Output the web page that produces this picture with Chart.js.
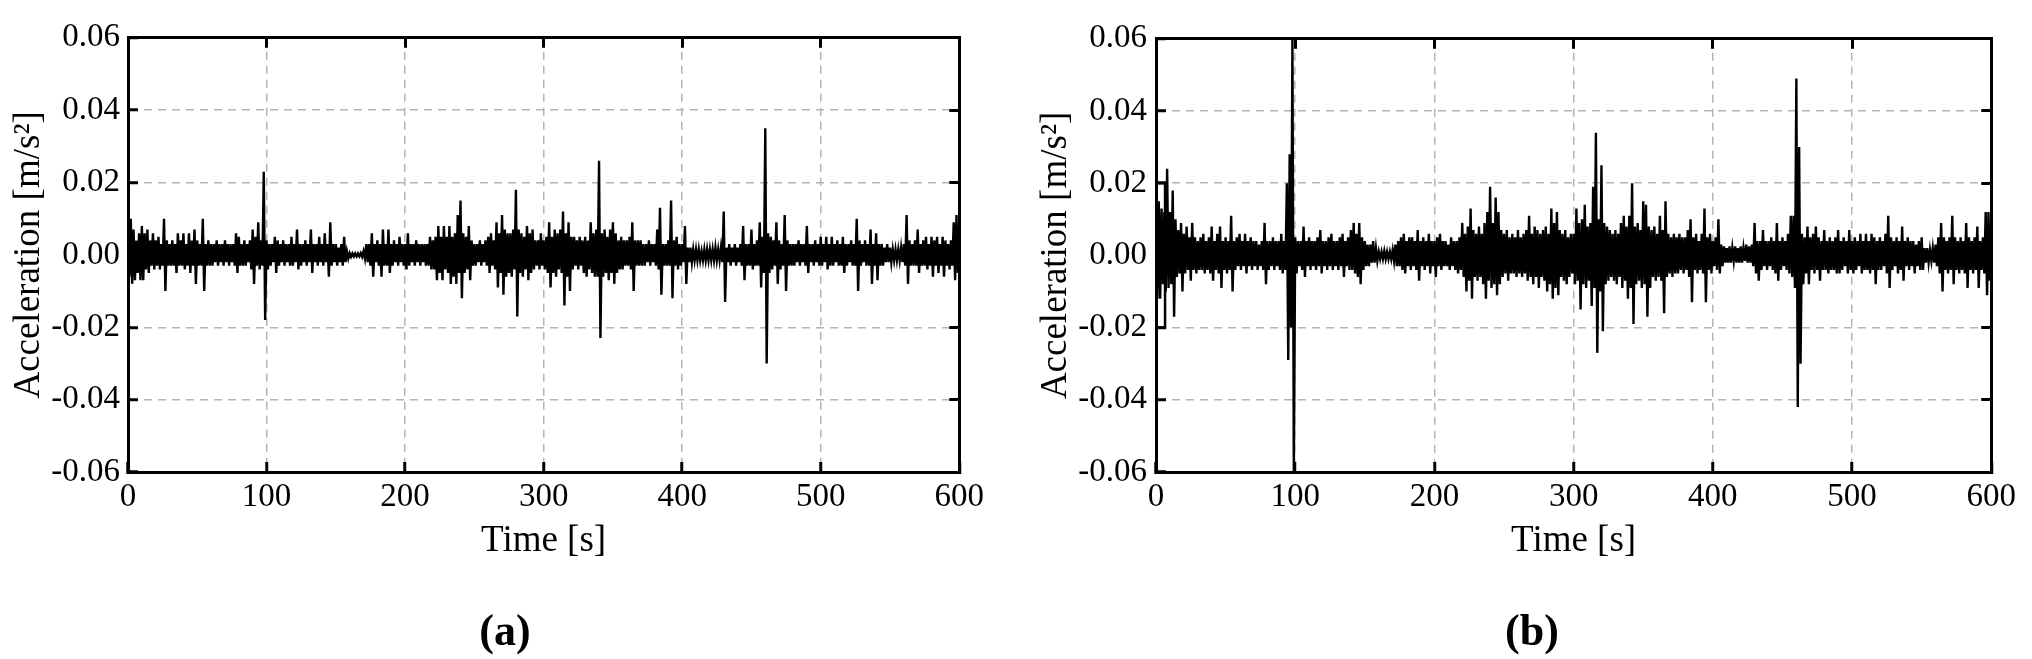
<!DOCTYPE html>
<html>
<head>
<meta charset="utf-8">
<script src="https://cdn.jsdelivr.net/npm/chart.js@4.4.1/dist/chart.umd.min.js"></script>
<style>
  body { margin: 0; background: #fff; width: 2032px; height: 659px; position: relative; overflow: hidden; font-family: 'Liberation Serif', serif; }
  canvas { position: absolute; top: 0; }
  .cap { position: absolute; top: 630px; font-size: 44px; font-weight: bold; color: #000; transform: translate(-50%, -50%); }
</style>
</head>
<body>
<canvas id="chartA" width="1000" height="659" style="left:0"></canvas>
<canvas id="chartB" width="1005" height="659" style="left:1027px"></canvas>
<div class="cap" style="left:505px">(a)</div>
<div class="cap" style="left:1532px">(b)</div>
<script>
// acceleration envelopes, in 1e-3 m/s^2, one value every STEP seconds (0..600 s)
const STEP = 2;

// (a) upper / lower envelope
const upA = [
  5, 10, 7, 4, 6, 8, 6, 7, 4, 6,            // 0 s
  4, 5, 3, 10, 4, 3, 4, 3, 6, 4,            // 20
  6, 3, 6, 4, 7, 4, 3, 10, 3, 4,            // 40
  3, 3, 4, 3, 3, 4, 3, 3, 3, 6,             // 60
  5, 3, 4, 3, 4, 7, 5, 9, 4, 23,            // 80
  4, 3, 3, 5, 4, 3, 4, 3, 3, 5,             // 100
  3, 7, 3, 3, 4, 3, 7, 3, 3, 5,             // 120
  3, 6, 3, 9, 3, 3, 2, 3, 5, 1,             // 140
  0.5, 0.4, 0.4, 0.4, 0.5, 1, 3, 3, 6, 3,   // 160
  4, 3, 7, 3, 7, 3, 4, 3, 5, 3,             // 180
  3, 6, 3, 3, 4, 3, 3, 3, 3, 5,             // 200
  4, 5, 8, 5, 8, 5, 8, 5, 6, 11,            // 220
  15, 6, 5, 8, 4, 3, 3, 4, 3, 4,            // 240
  5, 6, 4, 9, 6, 11, 7, 6, 6, 7,            // 260
  18, 7, 6, 5, 8, 6, 7, 4, 4, 6,            // 280
  4, 5, 9, 5, 7, 6, 7, 12, 6, 9,            // 300
  5, 5, 4, 5, 4, 5, 4, 9, 6, 7,             // 320
  26, 6, 7, 5, 7, 9, 6, 4, 5, 4,            // 340
  4, 5, 9, 4, 4, 4, 3, 3, 4, 3,             // 360
  3, 7, 13, 3, 3, 4, 15, 4, 5, 3,           // 380
  3, 8, 2, 2, 1.5, 1.5, 1.5, 1, 1.5, 1.5,   // 400
  1.5, 1.5, 2, 1.5, 2, 12, 2, 3, 2, 3,      // 420
  2, 3, 8, 3, 3, 7, 3, 4, 9, 5,             // 440
  35, 6, 5, 4, 9, 4, 3, 11, 4, 3,           // 460
  3, 3, 4, 3, 3, 8, 3, 3, 4, 3,             // 480
  5, 3, 5, 3, 5, 3, 4, 3, 5, 3,             // 500
  3, 4, 3, 10, 4, 3, 4, 3, 7, 3,            // 520
  6, 3, 3, 2, 3, 2, 1.5, 1.5, 1.5, 2,       // 540
  3, 11, 4, 3, 4, 7, 3, 4, 5, 3,            // 560
  5, 4, 5, 3, 5, 4, 3, 4, 9, 11,            // 580
  5
];
const loA = [
  -6, -8, -7, -5, -7, -7, -4, -5, -3, -4,
  -3, -4, -3, -10, -3, -3, -3, -5, -3, -3,
  -4, -3, -5, -3, -8, -3, -3, -10, -3, -3,
  -3, -2, -3, -2, -3, -2, -3, -2, -3, -5,
  -3, -3, -3, -2, -4, -8, -3, -4, -3, -18,
  -4, -3, -2, -5, -3, -2, -3, -2, -3, -3,
  -2, -4, -3, -2, -3, -2, -5, -2, -3, -2,
  -3, -2, -6, -3, -2, -3, -2, -3, -2, -1,
  -0.5, -0.4, -0.4, -0.4, -0.5, -1, -2, -3, -6, -2,
  -3, -6, -3, -3, -5, -3, -2, -3, -2, -3,
  -4, -3, -2, -3, -2, -3, -2, -3, -3, -4,
  -4, -7, -5, -7, -4, -5, -8, -6, -8, -5,
  -12, -5, -4, -7, -3, -3, -2, -3, -2, -3,
  -5, -3, -4, -9, -5, -11, -6, -5, -6, -4,
  -17, -5, -6, -4, -7, -5, -4, -3, -4, -3,
  -4, -5, -9, -5, -6, -4, -5, -14, -6, -10,
  -4, -3, -4, -3, -5, -6, -4, -5, -6, -6,
  -23, -6, -5, -7, -5, -8, -5, -4, -4, -3,
  -3, -4, -10, -3, -3, -3, -3, -2, -3, -2,
  -3, -4, -11, -3, -3, -3, -12, -3, -4, -3,
  -2, -8, -2, -2, -1.5, -1.5, -1.5, -1.5, -1.5, -1.5,
  -1.5, -1.5, -1.5, -1.5, -2, -13, -2, -3, -2, -3,
  -2, -3, -7, -3, -3, -4, -3, -3, -9, -5,
  -30, -5, -4, -3, -8, -4, -3, -10, -3, -3,
  -3, -2, -3, -2, -3, -5, -2, -3, -2, -3,
  -3, -2, -4, -3, -3, -2, -3, -3, -5, -3,
  -2, -3, -3, -10, -3, -2, -3, -3, -8, -3,
  -7, -3, -3, -2, -2, -2, -1.5, -1.5, -1.5, -2,
  -3, -8, -3, -3, -3, -5, -3, -3, -4, -3,
  -6, -3, -5, -3, -6, -3, -4, -3, -7, -5,
  -4
];

// (b) upper / lower envelope
const upB = [
  14, 15, 13, 12, 24, 12, 18, 10, 7, 9,
  6, 8, 5, 9, 5, 4, 5, 6, 4, 5,
  8, 4, 6, 8, 4, 5, 4, 11, 4, 5,
  6, 4, 6, 4, 5, 4, 4, 3, 4, 9,
  4, 4, 5, 4, 4, 6, 4, 20, 28, 60,
  5, 4, 4, 8, 4, 5, 4, 4, 5, 7,
  4, 4, 5, 6, 4, 4, 5, 6, 4, 5,
  7, 9, 6, 9, 5, 4, 3, 3, 4, 2,
  1, 1, 1.2, 1, 1, 1.5, 3, 4, 5, 6,
  4, 5, 5, 4, 7, 4, 5, 4, 6, 4,
  4, 5, 6, 4, 4, 3, 5, 4, 4, 5,
  9, 6, 8, 13, 7, 6, 8, 6, 9, 12,
  19, 9, 16, 12, 7, 6, 7, 5, 6, 5,
  7, 5, 6, 7, 11, 6, 8, 7, 6, 7,
  8, 6, 13, 9, 12, 7, 6, 7, 5, 6,
  6, 13, 9, 10, 14, 8, 9, 19, 34, 10,
  25, 9, 8, 7, 6, 7, 6, 9, 11, 8,
  11, 20, 8, 9, 7, 15, 14, 8, 7, 8,
  6, 11, 7, 15, 6, 5, 6, 5, 6, 5,
  5, 7, 10, 5, 6, 4, 6, 13, 5, 6,
  4, 5, 10, 3, 2.5, 2, 2.5, 2, 2.5, 2,
  2.5, 2, 3, 2.5, 3, 9, 4, 4, 7, 4,
  4, 5, 4, 9, 4, 5, 4, 6, 11, 11,
  49, 30, 6, 5, 8, 5, 6, 8, 5, 4,
  7, 4, 5, 4, 5, 7, 4, 5, 4, 7,
  4, 5, 4, 6, 4, 6, 4, 6, 5, 4,
  5, 4, 6, 11, 5, 4, 5, 4, 8, 4,
  5, 4, 4, 3, 4, 5, 2, 2, 1.5, 2,
  3, 5, 9, 5, 4, 5, 11, 5, 4, 5,
  4, 9, 5, 4, 5, 8, 4, 5, 12, 12,
  6
];
const loB = [
  -12, -12, -8, -10, -9, -8, -17, -6, -5, -10,
  -5, -4, -7, -4, -5, -4, -4, -5, -4, -5,
  -7, -4, -5, -9, -4, -5, -4, -10, -4, -3,
  -4, -3, -5, -3, -4, -3, -4, -3, -4, -8,
  -4, -3, -4, -3, -4, -5, -4, -29, -20, -60,
  -5, -3, -4, -6, -3, -4, -3, -4, -3, -5,
  -3, -4, -3, -4, -3, -4, -3, -6, -3, -4,
  -4, -5, -6, -8, -4, -3, -3, -2, -2, -1.5,
  -1, -1, -1, -1, -1, -1.5, -3, -3, -4, -5,
  -3, -4, -3, -4, -7, -3, -4, -3, -5, -3,
  -6, -3, -4, -3, -3, -4, -3, -4, -5, -4,
  -6, -10, -7, -12, -6, -7, -6, -8, -12, -7,
  -9, -8, -11, -8, -6, -5, -7, -5, -5, -6,
  -5, -6, -5, -7, -6, -8, -6, -9, -6, -7,
  -10, -8, -12, -9, -11, -6, -7, -8, -6, -5,
  -8, -7, -15, -8, -9, -7, -14, -9, -27, -10,
  -21, -8, -7, -6, -7, -8, -6, -9, -7, -12,
  -9, -19, -8, -7, -9, -8, -17, -9, -6, -7,
  -6, -7, -16, -6, -5, -6, -5, -5, -4, -5,
  -4, -6, -13, -4, -5, -4, -5, -13, -4, -5,
  -3, -4, -5, -3, -2, -2, -2, -1.5, -2, -2,
  -2, -1.5, -2, -2, -3, -5, -7, -4, -3, -4,
  -3, -4, -5, -7, -4, -3, -4, -5, -6, -9,
  -42, -30, -8, -5, -8, -4, -5, -4, -7, -4,
  -4, -5, -4, -4, -5, -5, -4, -3, -5, -4,
  -5, -4, -3, -5, -4, -4, -5, -4, -8, -4,
  -4, -3, -5, -9, -4, -3, -5, -4, -7, -3,
  -4, -3, -5, -3, -4, -4, -2, -2, -1.5, -2,
  -3, -5, -10, -4, -5, -4, -8, -4, -5, -4,
  -5, -9, -4, -5, -4, -9, -4, -5, -11, -7,
  -6
];

// the square start-up pulse at the beginning of (b)
const pulseT = [0, 6.5, 6.5, 0];
const pulseV = [20, 20, -20, -20];

const xTicks = [0, 100, 200, 300, 400, 500, 600];
const yTicks = [-60, -40, -20, 0, 20, 40, 60];

const SERIF = "'Liberation Serif', 'Times New Roman', serif";

function frameAxis(position, isX, min, max, step) {
  return {
    type: 'linear', position: position, min: min, max: max,
    ticks: { display: false, stepSize: step },
    grid: { drawOnChartArea: false, drawTicks: true, tickLength: -10, tickColor: '#000', tickWidth: 3 },
    border: { display: true, color: '#000', width: 3 },
    afterFit: s => { if (isX) s.height = 0; else s.width = 0; }
  };
}

// the trace swings from the upper envelope to the lower one within each step
function trace(up, lo) {
  const out = [];
  up.forEach((v, i) => {
    out.push({ x: i * STEP, y: v });
    if (i < up.length - 1) out.push({ x: i * STEP + STEP / 2, y: lo[i] });
  });
  return out;
}

function makeChart(id, up, lo, extra, yWidth, padRight, yPad) {
  const datasets = [
    { data: trace(up, lo), borderColor: '#000', backgroundColor: '#000', borderWidth: 2.4,
      pointRadius: 0, fill: 'origin' }
  ];
  if (extra) datasets.push(extra);

  return new Chart(document.getElementById(id), {
    type: 'line',
    data: { datasets: datasets },
    options: {
      responsive: false,
      animation: false,
      devicePixelRatio: 1,
      layout: { padding: { top: 13, right: padRight, bottom: 0, left: 0 } },
      plugins: { legend: { display: false }, tooltip: { enabled: false } },
      elements: { line: { tension: 0 } },
      scales: {
        x: {
          type: 'linear', position: 'bottom', min: xTicks[0], max: xTicks[xTicks.length - 1],
          ticks: { stepSize: 100, color: '#000', font: { family: SERIF, size: 33 }, padding: 16, maxRotation: 0,
                   callback: v => String(v) },
          grid: { color: '#b4b4b4', lineWidth: 1.5, tickLength: -10, tickColor: '#000', tickWidth: 3 },
          border: { display: true, color: '#000', width: 3, dash: [8, 6] },
          title: { display: true, text: 'Time [s]', color: '#000', font: { family: SERIF, size: 37 },
                   padding: { top: 0, bottom: 96 } },
          afterFit: s => { s.height = 187; }
        },
        y: {
          type: 'linear', position: 'left', min: yTicks[0], max: yTicks[yTicks.length - 1],
          ticks: { stepSize: 20, color: '#000', font: { family: SERIF, size: 33 }, padding: yPad,
                   callback: v => (Math.abs(v) < 1e-9 ? 0 : v / 1000).toFixed(2) },
          grid: { color: '#b4b4b4', lineWidth: 1.5, tickLength: -10, tickColor: '#000', tickWidth: 3 },
          border: { display: true, color: '#000', width: 3, dash: [8, 6] },
          title: { display: true, text: 'Acceleration [m/s²]', color: '#000', font: { family: SERIF, size: 37 },
                   padding: { top: 7, bottom: 0 } },
          afterFit: s => { s.width = yWidth; }
        },
        x2: frameAxis('top', true, 0, 600, 100),
        y2: frameAxis('right', false, -60, 60, 20)
      }
    }
  });
}

makeChart('chartA', upA, loA, null, 128, 23, 18);
makeChart('chartB', upB, loB, {
  data: pulseT.map((x, i) => ({ x: x, y: pulseV[i] })),
  borderColor: '#000', borderWidth: 2.5, pointRadius: 0, fill: false
}, 129, 37, 19);
</script>
</body>
</html>
